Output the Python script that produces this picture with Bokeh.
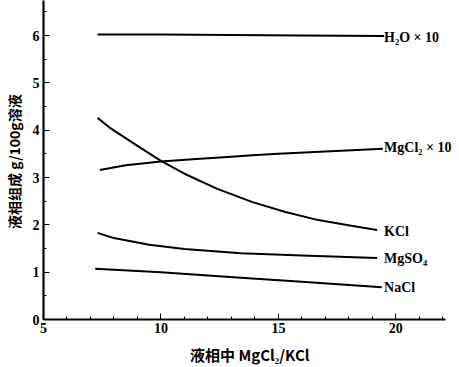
from bokeh.plotting import figure
from bokeh.models import ColumnDataSource, LabelSet, Range1d, FixedTicker
from bokeh.embed import file_html
from bokeh.resources import INLINE

# --- data ---
h2o_x = [7.3, 10.0, 13.0, 16.0, 19.5]
h2o_y = [6.02, 6.02, 6.01, 6.00, 5.99]

mgcl2_x = [7.4, 8.5, 10.0, 11.5, 13.0, 13.9, 15.0, 17.0, 19.45]
mgcl2_y = [3.16, 3.26, 3.34, 3.39, 3.44, 3.47, 3.50, 3.55, 3.61]

kcl_x = [7.3, 7.8, 8.35, 9.0, 10.0, 11.0, 12.4, 13.9, 15.3, 16.7, 18.1, 19.2]
kcl_y = [4.26, 4.06, 3.88, 3.67, 3.35, 3.08, 2.76, 2.48, 2.27, 2.10, 1.98, 1.89]

mgso4_x = [7.3, 8.0, 9.5, 11.0, 13.4, 16.0, 19.2]
mgso4_y = [1.83, 1.72, 1.58, 1.49, 1.40, 1.35, 1.30]

nacl_x = [7.2, 10.0, 13.4, 16.0, 19.4]
nacl_y = [1.07, 1.00, 0.88, 0.80, 0.68]

label_names = ["H\u2082O \u00d7 10", "MgCl\u2082 \u00d7 10", "KCl", "MgSO\u2084", "NaCl"]
label_x = [19.5, 19.5, 19.5, 19.5, 19.5]
label_y = [5.96, 3.64, 1.86, 1.28, 0.67]

x_ticks = [5, 10, 15, 20]
y_ticks = [0, 1, 2, 3, 4, 5, 6]

p = figure(width=459, height=367, output_backend="svg", toolbar_location=None,
           x_range=Range1d(5, 22.71), y_range=Range1d(0, 6.74),
           min_border_left=41, min_border_right=0, min_border_top=0, min_border_bottom=45)
p.outline_line_color = None
p.xgrid.visible = False
p.ygrid.visible = False
p.background_fill_color = "white"
p.border_fill_color = "white"

for xs, ys in [(h2o_x, h2o_y), (mgcl2_x, mgcl2_y), (kcl_x, kcl_y), (mgso4_x, mgso4_y), (nacl_x, nacl_y)]:
    p.line(xs, ys, line_color="black", line_width=2, line_join="round")

src = ColumnDataSource(dict(x=label_x, y=label_y, t=label_names))
p.add_layout(LabelSet(x="x", y="y", text="t", source=src, text_font="Liberation Serif",
                      text_font_style="bold", text_font_size="14px", text_baseline="middle",
                      text_align="left", text_color="black"))

serif = "Liberation Serif"
p.xaxis.ticker = FixedTicker(ticks=x_ticks, minor_ticks=list(range(5, 23)))
p.yaxis.ticker = FixedTicker(ticks=y_ticks, minor_ticks=[i * 0.5 for i in range(14)])
p.xaxis.bounds = (5, 22.1)
for ax in (p.xaxis[0], p.yaxis[0]):
    ax.axis_line_width = 2.2
    ax.axis_line_color = "black"
    ax.major_tick_in = 6
    ax.major_tick_out = 0
    ax.minor_tick_in = 3
    ax.minor_tick_out = 0
    ax.major_tick_line_color = "black"
    ax.minor_tick_line_color = "black"
    ax.major_label_text_font = serif
    ax.major_label_text_font_style = "bold"
    ax.major_label_text_font_size = "14px"
    ax.major_label_text_color = "black"
    ax.axis_label_text_font = "Noto Sans CJK SC"
    ax.axis_label_text_font_style = "bold"
    ax.axis_label_text_color = "black"

p.xaxis.axis_label = "液相中  MgCl\u2082/KCl"
p.yaxis.axis_label = "液相组成  g/100g溶液"
p.xaxis.axis_label_text_font_size = "15px"
p.yaxis.axis_label_text_font_size = "14px"
p.xaxis.major_label_standoff = 3
p.yaxis.major_label_standoff = 4
p.xaxis.axis_label_standoff = 8
p.yaxis.axis_label_standoff = 6

open("out.html", "w").write(file_html(p, INLINE))
